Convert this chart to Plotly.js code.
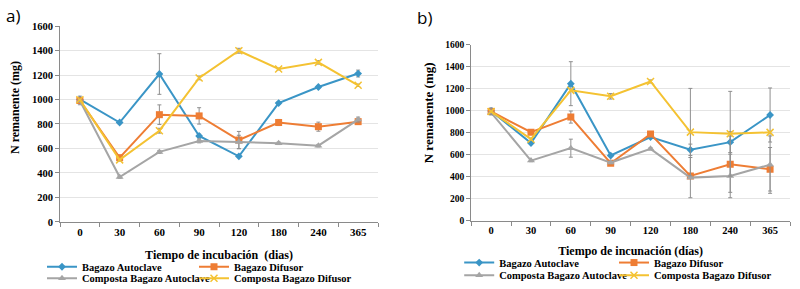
<!DOCTYPE html>
<html>
<head>
<meta charset="utf-8">
<script src="https://cdn.plot.ly/plotly-3.0.1.min.js"></script>
<style>html,body{margin:0;padding:0;background:#fff;}#chart{width:800px;height:289px;}</style>
</head>
<body>
<div id="chart"></div>
<script>
// ---------- data ----------
const categories = ['0', '30', '60', '90', '120', '180', '240', '365'];
const seriesNames = ['Bagazo Autoclave', 'Bagazo Difusor', 'Composta Bagazo Autoclave', 'Composta Bagazo Difusor'];
const yTitle = 'N remanente (mg)';

// Panel a)
const aBagazoAutoclave        = [1000, 812, 1208, 702, 536, 971, 1102, 1212];
const aBagazoDifusor          = [992, 525, 876, 866, 669, 812, 778, 819];
const aCompostaAutoclave      = [990, 367, 572, 661, 653, 642, 623, 836];
const aCompostaDifusor        = [998, 507, 745, 1176, 1398, 1249, 1303, 1116];
const aErrBagazoAutoclave     = [10, 10, 166, 15, 10, 10, 10, 28];
const aErrBagazoDifusor       = [35, 15, 80, 67, 70, 25, 37, 10];
const aErrCompostaAutoclave   = [10, 10, 12, 15, 55, 10, 10, 20];
const aErrCompostaDifusor     = [10, 10, 20, 15, 20, 8, 14, 10];

// Panel b)
const bBagazoAutoclave        = [1000, 707, 1248, 594, 762, 646, 716, 963];
const bBagazoDifusor          = [995, 806, 944, 524, 789, 408, 515, 469];
const bCompostaAutoclave      = [985, 548, 661, 530, 655, 393, 408, 511];
const bCompostaDifusor        = [995, 743, 1187, 1133, 1268, 807, 792, 805];
const bErrBagazoAutoclave     = [10, 10, 200, 10, 10, 52, 95, 246];
const bErrBagazoDifusor       = [10, 10, 55, 10, 10, 10, 256, 198];
const bErrCompostaAutoclave   = [10, 10, 82, 10, 10, 183, 198, 261];
const bErrCompostaDifusor     = [32, 10, 10, 25, 14, 398, 386, 10];

const yTicks = [0, 200, 400, 600, 800, 1000, 1200, 1400, 1600];

// ---------- styling ----------
const colors = ['#3A95C6', '#EE7D34', '#A5A5A5', '#F4C232'];
const symbols = ['diamond', 'square', 'triangle-up', 'x-thin-open'];
const sizes = [6, 7, 7, 7];
const serif = 'Liberation Serif';
const errColor = '#8f8f8f';

function mk(y, err, i, xa, ya, leg) {
  return {
    type: 'scatter', mode: 'lines+markers',
    x: categories, y: y, name: seriesNames[i],
    xaxis: xa, yaxis: ya, legend: leg,
    line: {color: colors[i], width: 2},
    marker: {color: colors[i], symbol: symbols[i], size: sizes[i], line: {color: colors[i], width: i === 3 ? 1.5 : 0}},
    error_y: {type: 'data', array: err, visible: true, color: errColor, thickness: 1, width: 2},
    hoverinfo: 'x+y+name'
  };
}

const data = [
  mk(aBagazoAutoclave, aErrBagazoAutoclave, 0, 'x', 'y', 'legend'),
  mk(aBagazoDifusor, aErrBagazoDifusor, 1, 'x', 'y', 'legend2'),
  mk(aCompostaAutoclave, aErrCompostaAutoclave, 2, 'x', 'y', 'legend3'),
  mk(aCompostaDifusor, aErrCompostaDifusor, 3, 'x', 'y', 'legend4'),
  mk(bBagazoAutoclave, bErrBagazoAutoclave, 0, 'x2', 'y2', 'legend5'),
  mk(bBagazoDifusor, bErrBagazoDifusor, 1, 'x2', 'y2', 'legend6'),
  mk(bCompostaAutoclave, bErrCompostaAutoclave, 2, 'x2', 'y2', 'legend7'),
  mk(bCompostaDifusor, bErrCompostaDifusor, 3, 'x2', 'y2', 'legend8')
];

function xAxis(domain, title, anchor, fs, standoff) {
  return {
    domain: domain, anchor: anchor, type: 'category', range: [-0.5, 7.5],
    tickson: 'boundaries', ticks: 'outside', ticklen: 4, tickcolor: '#8a8a8a',
    showline: true, linecolor: '#8a8a8a', linewidth: 1, showgrid: false, zeroline: false,
    tickfont: {family: serif, size: fs, color: '#000', weight: 'bold'},
    title: {text: title, font: {family: serif, size: 12, color: '#000', weight: 'bold'}, standoff: standoff},
    fixedrange: true
  };
}
function yAxis(domain, anchor, fs) {
  return {
    domain: domain, anchor: anchor, range: [0, 1600], tickvals: yTicks,
    ticks: 'outside', ticklen: 4, tickcolor: '#8a8a8a',
    showline: true, linecolor: '#8a8a8a', linewidth: 1,
    showgrid: true, gridcolor: '#e4e4e4', gridwidth: 1, zeroline: false,
    tickfont: {family: serif, size: fs, color: '#000', weight: 'bold'},
    fixedrange: true
  };
}
function legend(x, y) {
  return {
    x: x, y: y, xanchor: 'left', yanchor: 'middle', orientation: 'h',
    font: {family: serif, size: 10.5, color: '#000', weight: 'bold'},
    bgcolor: 'rgba(0,0,0,0)',
    itemclick: false, itemdoubleclick: false, tracegroupgap: 0
  };
}

const layout = {
  width: 800, height: 289,
  margin: {l: 0, r: 0, t: 0, b: 0, autoexpand: false},
  paper_bgcolor: '#fff', plot_bgcolor: '#fff',
  showlegend: true,
  xaxis: xAxis([0.075, 0.4725], 'Tiempo de incubación  (dias)', 'y', 11, 13),
  yaxis: yAxis([0.232, 0.910], 'x', 10.5),
  xaxis2: xAxis([0.589, 0.9875], 'Tiempo de incunación (días)', 'y2', 10.5, 11),
  yaxis2: yAxis([0.236, 0.8443], 'x2', 9.5),
  legend:  legend(0.0525, 0.077),
  legend2: legend(0.2425, 0.077),
  legend3: legend(0.0525, 0.037),
  legend4: legend(0.2425, 0.037),
  legend5: legend(0.574, 0.0915),
  legend6: legend(0.7675, 0.0915),
  legend7: legend(0.574, 0.0475),
  legend8: legend(0.7675, 0.0475),
  annotations: [
    {text: 'a)', xref: 'paper', yref: 'paper', x: 0.005, y: 0.945, xanchor: 'left', yanchor: 'middle', showarrow: false,
     font: {family: 'Open Sans', size: 17, color: '#000'}},
    {text: 'b)', xref: 'paper', yref: 'paper', x: 0.519, y: 0.94, xanchor: 'left', yanchor: 'middle', showarrow: false,
     font: {family: 'Open Sans', size: 17, color: '#000'}},
    {text: yTitle, xref: 'paper', yref: 'paper', x: 15 / 800, y: 0.6263, xanchor: 'center', yanchor: 'middle', textangle: -90, showarrow: false,
     font: {family: serif, size: 12, color: '#000', weight: 'bold'}},
    {text: yTitle, xref: 'paper', yref: 'paper', x: 428 / 800, y: 0.608, xanchor: 'center', yanchor: 'middle', textangle: -90, showarrow: false,
     font: {family: serif, size: 13, color: '#000', weight: 'bold'}}
  ]
};

Plotly.newPlot('chart', data, layout, {displayModeBar: false});
</script>
</body>
</html>
